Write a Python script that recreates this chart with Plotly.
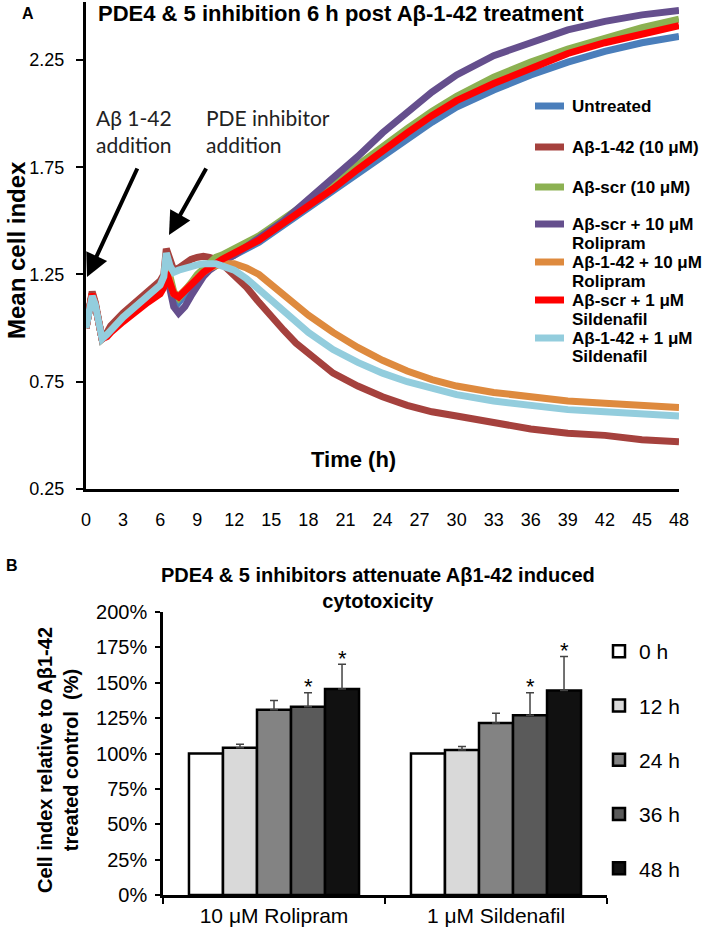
import plotly.graph_objects as go

# ---------------- Panel A data (mean cell index vs time) ----------------
TIME = [0, 0.25, 0.5, 0.75, 1, 1.3, 1.7, 2, 3, 4, 5, 6, 6.3,
        6.5, 6.8, 7.1, 7.5, 8, 8.5, 9, 9.5, 10, 10.5, 11,
        12, 13, 14, 15, 16, 17, 18, 20, 22, 24, 26, 28, 30,
        33, 36, 39, 42, 45, 48]

untreated = [1.00, 1.09, 1.16, 1.11, 1.03, 0.95, 0.97, 0.99, 1.05, 1.10, 1.15, 1.19, 1.22,
             1.30, 1.22, 1.15, 1.12, 1.15, 1.19, 1.23, 1.26, 1.28, 1.30, 1.31,
             1.34, 1.37, 1.40, 1.44, 1.48, 1.52, 1.56, 1.64, 1.72, 1.80, 1.88, 1.96, 2.03,
             2.11, 2.18, 2.24, 2.29, 2.33, 2.36]
abeta42 = [1.00, 1.10, 1.17, 1.12, 1.04, 0.95, 0.98, 1.01, 1.07, 1.12, 1.17, 1.22, 1.25,
           1.37, 1.32, 1.27, 1.28, 1.30, 1.32, 1.33, 1.335, 1.33, 1.32, 1.30,
           1.25, 1.19, 1.12, 1.05, 0.99, 0.93, 0.88, 0.79, 0.73, 0.68, 0.64, 0.61, 0.59,
           0.56, 0.53, 0.51, 0.50, 0.48, 0.47]
abscr = [1.00, 1.09, 1.16, 1.11, 1.03, 0.95, 0.97, 0.99, 1.05, 1.10, 1.15, 1.19, 1.22,
         1.33, 1.24, 1.17, 1.14, 1.17, 1.21, 1.25, 1.28, 1.31, 1.33, 1.34,
         1.37, 1.40, 1.43, 1.47, 1.51, 1.55, 1.59, 1.67, 1.76, 1.85, 1.93, 2.01, 2.08,
         2.17, 2.24, 2.30, 2.35, 2.40, 2.44]
abscr_roli = [1.00, 1.09, 1.16, 1.11, 1.03, 0.95, 0.97, 0.99, 1.05, 1.10, 1.15, 1.19, 1.22,
              1.30, 1.18, 1.10, 1.07, 1.10, 1.15, 1.20, 1.24, 1.27, 1.29, 1.31,
              1.34, 1.38, 1.42, 1.46, 1.50, 1.55, 1.60, 1.69, 1.80, 1.91, 2.01, 2.10, 2.18,
              2.27, 2.33, 2.39, 2.43, 2.46, 2.48]
ab42_roli = [1.00, 1.09, 1.16, 1.11, 1.03, 0.95, 0.97, 0.99, 1.05, 1.10, 1.15, 1.19, 1.22,
             1.33, 1.22, 1.16, 1.15, 1.18, 1.21, 1.24, 1.26, 1.28, 1.29, 1.30,
             1.30, 1.28, 1.25, 1.20, 1.15, 1.10, 1.06, 0.98, 0.91, 0.85, 0.80, 0.76, 0.73,
             0.70, 0.68, 0.66, 0.65, 0.64, 0.63]
abscr_sild = [1.00, 1.09, 1.16, 1.11, 1.03, 0.95, 0.96, 0.98, 1.03, 1.08, 1.12, 1.16, 1.19,
              1.26, 1.20, 1.16, 1.145, 1.17, 1.20, 1.23, 1.26, 1.285, 1.30, 1.32,
              1.35, 1.38, 1.41, 1.45, 1.49, 1.53, 1.57, 1.65, 1.74, 1.83, 1.91, 1.99, 2.06,
              2.14, 2.21, 2.28, 2.33, 2.37, 2.41]
ab42_sild = [1.00, 1.09, 1.15, 1.11, 1.03, 0.95, 0.97, 0.99, 1.05, 1.10, 1.15, 1.20, 1.24,
             1.35, 1.29, 1.26, 1.27, 1.28, 1.29, 1.295, 1.30, 1.30, 1.30, 1.29,
             1.27, 1.23, 1.18, 1.12, 1.07, 1.02, 0.98, 0.90, 0.84, 0.79, 0.75, 0.72, 0.69,
             0.66, 0.64, 0.62, 0.61, 0.60, 0.59]

SERIES_NAMES = ["Untreated", "Aβ-1-42 (10 μM)", "Aβ-scr (10 μM)",
                "Aβ-scr + 10 μM<br>Rolipram", "Aβ-1-42 + 10 μM<br>Rolipram",
                "Aβ-scr + 1 μM<br>Sildenafil", "Aβ-1-42 + 1 μM<br>Sildenafil"]
SERIES_VALUES = [untreated, abeta42, abscr, abscr_roli, ab42_roli, abscr_sild, ab42_sild]
SERIES_COLORS = ["#4A7EBB", "#A5413D", "#8CB152", "#654F8D", "#DE8A3E", "#FF0000", "#93CDDD"]

X_TICKS_A = list(range(0, 49, 3))
Y_TICKS_A = [0.25, 0.75, 1.25, 1.75, 2.25]

# ---------------- Panel B data (relative cell index) ----------------
GROUPS = ["10 μM Rolipram", "1 μM Sildenafil"]
TIMEPOINTS = ["0 h", "12 h", "24 h", "36 h", "48 h"]
ROLIPRAM = [1.00, 1.04, 1.31, 1.33, 1.455]
ROLIPRAM_ERR = [0.0, 0.025, 0.065, 0.10, 0.175]
SILDENAFIL = [1.00, 1.025, 1.215, 1.27, 1.445]
SILDENAFIL_ERR = [0.0, 0.025, 0.07, 0.16, 0.24]
SIGNIFICANT = [[False, False, False, True, True], [False, False, False, True, True]]
BAR_COLORS = ["#FFFFFF", "#D9D9D9", "#838383", "#5A5A5A", "#111111"]

FONT = "Liberation Sans, Arial, sans-serif"
W, H = 709, 931


def px(x):
    return x / W


def py(y):
    return 1 - y / H


fig = go.Figure()

for name, vals, col in zip(SERIES_NAMES, SERIES_VALUES, SERIES_COLORS):
    fig.add_trace(go.Scatter(x=TIME, y=vals, mode="lines", name=name.replace("<br>", " "),
                             line=dict(color=col, width=7), xaxis="x", yaxis="y",
                             showlegend=False))

for i, tp in enumerate(TIMEPOINTS):
    vals = [ROLIPRAM[i], SILDENAFIL[i]]
    errs = [ROLIPRAM_ERR[i], SILDENAFIL_ERR[i]]
    fig.add_trace(go.Bar(x=GROUPS, y=vals, name=tp, xaxis="x2", yaxis="y2",
                         marker=dict(color=BAR_COLORS[i], line=dict(color="black", width=2.5)),
                         error_y=dict(type="data", array=errs, arrayminus=[0, 0], symmetric=False,
                                      color="#444444", thickness=1.5, width=4,
                                      visible=any(e > 0 for e in errs)),
                         legendgroup=tp, showlegend=True))

annotations = []
shapes = []


def note(text, x, y, size, family=FONT, xanchor="center", yanchor="middle", **kw):
    annotations.append(dict(text=text, x=px(x), y=py(y), xref="paper", yref="paper",
                            xanchor=xanchor, yanchor=yanchor, showarrow=False,
                            font=dict(family=family, size=size, color=kw.pop("color", "black")),
                            **kw))


# Panel labels and titles
note("<b>A</b>", 28, 13, 16)
note("<b>PDE4 &amp; 5 inhibition 6 h post Aβ-1-42 treatment</b>", 96, 13, 22, xanchor="left")
note("<b>Mean cell index</b>", 16, 250, 24, textangle=-90)
note("<b>Time (h)</b>", 353, 460, 22)

# Addition labels and arrows
note("Aβ 1-42<br>addition", 94, 131, 21, family="Lato, sans-serif", xanchor="left",
     align="left", color="#222")
note("PDE inhibitor<br>addition", 204, 131, 21, family="Lato, sans-serif", xanchor="left",
     align="left", color="#222")
annotations.append(dict(text="", x=px(87), y=py(277), xref="paper", yref="paper",
                        showarrow=True, ax=51, ay=-110, arrowhead=2, arrowsize=1.15,
                        arrowwidth=4, arrowcolor="black"))
annotations.append(dict(text="", x=px(169), y=py(235), xref="paper", yref="paper",
                        showarrow=True, ax=38, ay=-68, arrowhead=2, arrowsize=1.15,
                        arrowwidth=4, arrowcolor="black"))

# Manual legend for panel A
LEG_Y = [106, 147, 187, 224, 262, 300, 338]
for name, col, ly in zip(SERIES_NAMES, SERIES_COLORS, LEG_Y):
    shapes.append(dict(type="line", xref="paper", yref="paper", x0=px(535), x1=px(564),
                       y0=py(ly), y1=py(ly), line=dict(color=col, width=7)))
    for k, part in enumerate(name.split("<br>")):
        note("<b>" + part + "</b>", 570, ly + 19 * k, 17, xanchor="left")

# Panel B labels
note("<b>B</b>", 12, 565, 16)
note("<b>PDE4 &amp; 5 inhibitors attenuate Aβ1-42 induced<br>cytotoxicity</b>", 378, 588, 20)
note("<b>Cell index relative to Aβ1-42<br>treated control  (%)</b>", 58, 760, 20, textangle=-90)

# Significance stars
BAR_PX = 34
for g, (grp, vals, errs) in enumerate(zip(GROUPS, [ROLIPRAM, SILDENAFIL],
                                          [ROLIPRAM_ERR, SILDENAFIL_ERR])):
    for i in range(len(TIMEPOINTS)):
        if SIGNIFICANT[g][i]:
            annotations.append(dict(text="*", x=grp, y=vals[i] + errs[i], xref="x2", yref="y2",
                                    xshift=(i - 2) * BAR_PX, yshift=6, xanchor="center",
                                    yanchor="middle", showarrow=False,
                                    font=dict(family=FONT, size=22, color="black")))

fig.update_layout(
    width=W, height=H, margin=dict(l=0, r=0, t=0, b=0, autoexpand=False),
    paper_bgcolor="white", plot_bgcolor="white",
    font=dict(family=FONT, color="black"),
    barmode="group", bargap=0.234, bargroupgap=0,
    xaxis=dict(domain=[px(86), px(679)], range=[0, 48], tickvals=X_TICKS_A,
               showline=True, linecolor="black", linewidth=3, showgrid=False, zeroline=False,
               ticks="", tickfont=dict(size=18, color="black"), ticklabelstandoff=12,
               anchor="y", automargin=False),
    yaxis=dict(domain=[py(489), py(2)], range=[0.25, 2.52], tickvals=Y_TICKS_A,
               tickformat=".2f", showline=True, linecolor="black", linewidth=3,
               showgrid=False, zeroline=False, ticks="outside", ticklen=7, tickwidth=2,
               tickcolor="black", tickfont=dict(size=18, color="black"),
               ticklabelstandoff=8, anchor="x", automargin=False),
    xaxis2=dict(domain=[px(163), px(607)], type="category", showline=True, linecolor="black",
                linewidth=2.5, showgrid=False, ticks="outside", tickson="boundaries",
                ticklen=6, tickwidth=2, tickcolor="black",
                tickfont=dict(size=21, color="black"), anchor="y2", automargin=False),
    yaxis2=dict(domain=[py(895), py(612)], range=[0, 2.0], dtick=0.25, tickformat=".0%",
                showline=True, linecolor="black", linewidth=2.5, showgrid=False,
                zeroline=False, ticks="outside", ticklen=5, tickwidth=2, tickcolor="black",
                tickfont=dict(size=20, color="black"), ticklabelstandoff=4, anchor="x2",
                automargin=False),
    legend=dict(x=px(599), y=py(631), xanchor="left", yanchor="top", traceorder="grouped",
                tracegroupgap=24, font=dict(size=21, color="black"),
                bgcolor="rgba(0,0,0,0)"),
    annotations=annotations, shapes=shapes,
)

fig.write_html("out.html", config={"displayModeBar": False},
               post_script="document.body.style.margin='0';document.body.style.overflow='hidden';")
